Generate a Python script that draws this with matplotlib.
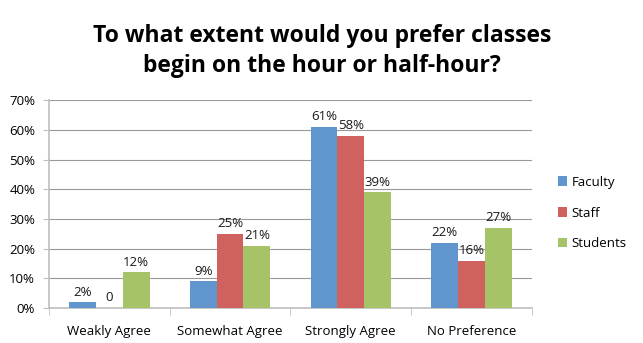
import numpy as np
import matplotlib.pyplot as plt

categories = ['Weakly Agree', 'Somewhat Agree', 'Strongly Agree', 'No Preference']
faculty = [2, 9, 61, 22]
staff = [0, 25, 58, 16]
students = [12, 21, 39, 27]
series = [('Faculty', faculty, '#6096CD'),
          ('Staff', staff, '#CF625E'),
          ('Students', students, '#A6C467')]

plt.rcParams['font.family'] = ['Open Sans', 'DejaVu Sans']

fig = plt.figure(figsize=(6.43, 3.43), dpi=100)
ax = fig.add_axes([0.0762, 0.102, 0.751, 0.606])

x = np.arange(len(categories))
width = 1 / 4.5
for i, (name, vals, color) in enumerate(series):
    pos = x + (i - 1) * width
    bars = ax.bar(pos, vals, width, color=color, label=name, zorder=3)
    for b, v in zip(bars, vals):
        txt = f'{v}%' if v else '0'
        ax.text(b.get_x() + b.get_width() / 2, v + 1.2, txt,
                ha='center', va='bottom', fontsize=9.5, color='#1a1a1a')

ax.set_xlim(-0.5, len(categories) - 0.5)
ax.set_ylim(0, 70)
ax.set_yticks(range(0, 71, 10))
ax.set_yticklabels([f'{t}%' for t in range(0, 71, 10)], fontsize=9.5)
ax.set_xticks(x)
ax.set_xticklabels(categories, fontsize=9.5)
ax.set_xticks(np.arange(-0.5, len(categories)), minor=True)
ax.tick_params(axis='x', which='major', length=0, pad=12)
ax.tick_params(axis='x', which='minor', length=5, color='#bfbfbf')
ax.tick_params(axis='y', length=4, color='#bfbfbf', pad=6)

ax.grid(axis='y', color='#999999', linewidth=0.8, zorder=0)
for s in ['top', 'right']:
    ax.spines[s].set_visible(False)
for s in ['left', 'bottom']:
    ax.spines[s].set_color('#bfbfbf')
    ax.spines[s].set_linewidth(1.2)

ax.legend(loc='center left', bbox_to_anchor=(1.03, 0.457), frameon=False,
          fontsize=9.5, handlelength=0.7, handleheight=0.7, handletextpad=0.3,
          labelspacing=1.35)

fig.text(0.501, 0.93, 'To what extent would you prefer classes\nbegin on the hour or half-hour?',
         ha='center', va='top', fontsize=16.5, fontweight='bold', linespacing=1.35)

fig.savefig('out.png', dpi=100)
